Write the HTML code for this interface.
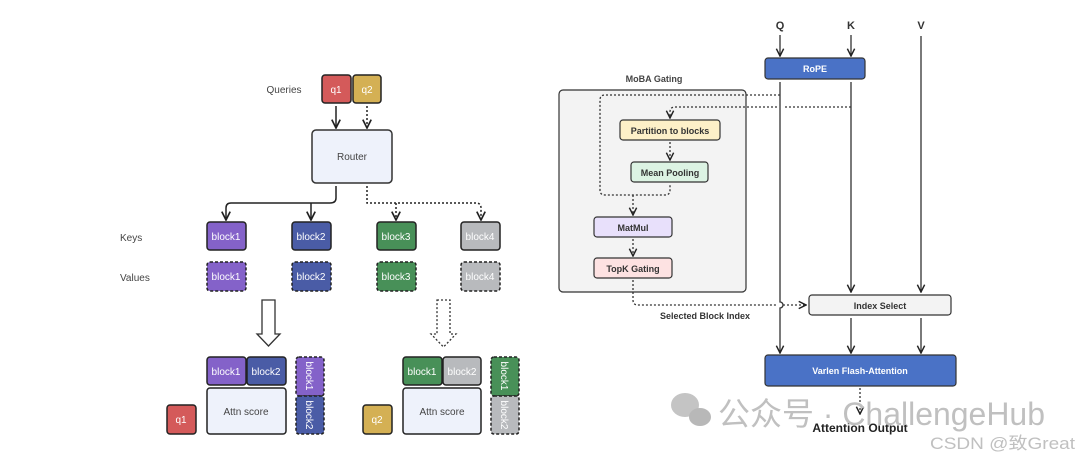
<!DOCTYPE html>
<html><head><meta charset="utf-8"><style>
html,body{margin:0;padding:0;background:#fff;}
svg{display:block;font-family:"Liberation Sans","Noto Sans CJK SC",sans-serif;}
</style></head><body>
<svg width="1080" height="459" viewBox="0 0 1080 459" xmlns="http://www.w3.org/2000/svg">
<defs>
<marker id="ah" viewBox="0 0 10 10" refX="9" refY="5" markerWidth="7" markerHeight="7" orient="auto-start-reverse"><path d="M1,1 L9,5 L1,9" fill="none" stroke="#222" stroke-width="1.6"/></marker>
</defs>
<g font-size="10" fill="#444">
<text x="284" y="93" text-anchor="middle">Queries</text>
<text x="120" y="241">Keys</text>
<text x="120" y="281">Values</text>
</g>
<g stroke="#222" stroke-width="1.5" font-size="10" text-anchor="middle">
<rect x="322" y="75" width="29" height="28" rx="3" fill="#d45a5a"/>
<rect x="353" y="75" width="28" height="28" rx="3" fill="#d4b054"/>
<rect x="312" y="130" width="80" height="53" rx="4" fill="#eef2fb" stroke="#333"/>
<rect x="207" y="222" width="39" height="28" rx="3" fill="#8462c9"/>
<rect x="292" y="222" width="39" height="28" rx="3" fill="#4a5ca6"/>
<rect x="377" y="222" width="39" height="28" rx="3" fill="#489058"/>
<rect x="461" y="222" width="39" height="28" rx="3" fill="#b8babd"/>
<g stroke-dasharray="3,2">
<rect x="207" y="262" width="39" height="29" rx="3" fill="#8462c9"/>
<rect x="292" y="262" width="39" height="29" rx="3" fill="#4a5ca6"/>
<rect x="377" y="262" width="39" height="29" rx="3" fill="#489058"/>
<rect x="461" y="262" width="39" height="29" rx="3" fill="#b8babd"/>
</g>
<rect x="207" y="357" width="39" height="28" rx="3" fill="#8462c9"/>
<rect x="247" y="357" width="39" height="28" rx="3" fill="#4a5ca6"/>
<rect x="207" y="388" width="79" height="46" rx="3" fill="#eef2fb"/>
<rect x="296" y="357" width="28" height="39" rx="3" fill="#8462c9" stroke-dasharray="3,2"/>
<rect x="296" y="396" width="28" height="38" rx="3" fill="#4a5ca6" stroke-dasharray="3,2"/>
<rect x="167" y="405" width="29" height="29" rx="3" fill="#d45a5a"/>
<rect x="403" y="357" width="39" height="28" rx="3" fill="#489058"/>
<rect x="443" y="357" width="38" height="28" rx="3" fill="#b8babd"/>
<rect x="403" y="388" width="78" height="46" rx="3" fill="#eef2fb"/>
<rect x="491" y="357" width="28" height="39" rx="3" fill="#489058" stroke-dasharray="3,2"/>
<rect x="491" y="396" width="28" height="38" rx="3" fill="#b8babd" stroke-dasharray="3,2"/>
<rect x="363" y="405" width="29" height="29" rx="3" fill="#d4b054"/>
</g>
<g font-size="10" text-anchor="middle" fill="#fff">
<text x="336" y="93">q1</text><text x="367" y="93">q2</text>
<text x="226" y="240">block1</text><text x="311" y="240">block2</text><text x="396" y="240">block3</text><text x="480" y="240">block4</text>
<text x="226" y="280">block1</text><text x="311" y="280">block2</text><text x="396" y="280">block3</text><text x="480" y="280">block4</text>
<text x="226" y="375">block1</text><text x="266" y="375">block2</text>
<text x="422" y="375">block1</text><text x="462" y="375">block2</text>
<text x="181" y="423">q1</text><text x="377" y="423">q2</text>
<text transform="translate(306,376) rotate(90)" >block1</text>
<text transform="translate(306,415) rotate(90)">block2</text>
<text transform="translate(501,376) rotate(90)">block1</text>
<text transform="translate(501,415) rotate(90)">block2</text>
</g>
<g font-size="10" text-anchor="middle" fill="#444">
<text x="352" y="160">Router</text>
<text x="246" y="415">Attn score</text>
<text x="442" y="415">Attn score</text>
</g>
<g fill="none" stroke="#222" stroke-width="1.5">
<path d="M336,106 V128" marker-end="url(#ah)"/>
<path d="M367,106 V128" stroke-dasharray="2,2" marker-end="url(#ah)"/>
<path d="M336,186 V198 Q336,203 330,203 H231 Q226,203 226,208 V220" marker-end="url(#ah)"/>
<path d="M311,203 Q311,205 311,208 V220" marker-end="url(#ah)"/>
<path d="M367,186 V203 H476 Q481,203 481,208 V220" stroke-dasharray="2,2" marker-end="url(#ah)"/>
<path d="M396,203 V220" stroke-dasharray="2,2" marker-end="url(#ah)"/>
<path d="M262,300 H275 V334 H280 L268.5,346 L257,334 H262 Z" stroke="#333" stroke-width="1.3"/>
<path d="M437,300 H450 V334 H456 L443.5,347 L431,334 H437 Z" stroke="#333" stroke-width="1.3" stroke-dasharray="2,2"/>
</g>
<g font-size="11" font-weight="bold" fill="#333" text-anchor="middle">
<text x="780" y="29">Q</text><text x="851" y="29">K</text><text x="921" y="29">V</text>
</g>
<text x="654" y="82" font-size="9" font-weight="bold" fill="#444" text-anchor="middle">MoBA Gating</text>
<rect x="559" y="90" width="187" height="202" rx="4" fill="#f3f3f3" stroke="#333" stroke-width="1.2"/>
<g stroke="#333" stroke-width="1.2">
<rect x="765" y="58" width="100" height="21" rx="3" fill="#4a72c6"/>
<rect x="620" y="120" width="100" height="20" rx="3" fill="#fdf0c8"/>
<rect x="631" y="162" width="77" height="20" rx="3" fill="#dcf3e3"/>
<rect x="594" y="217" width="78" height="20" rx="3" fill="#e8e0fb"/>
<rect x="594" y="258" width="78" height="20" rx="3" fill="#fde2e2"/>
<rect x="809" y="295" width="142" height="20" rx="3" fill="#f3f3f3"/>
<rect x="765" y="355" width="191" height="31" rx="3" fill="#4a72c6"/>
</g>
<g font-size="9" font-weight="bold" text-anchor="middle" fill="#333">
<text x="815" y="72" fill="#fff">RoPE</text>
<text x="670" y="134">Partition to blocks</text>
<text x="670" y="176">Mean Pooling</text>
<text x="633" y="231">MatMul</text>
<text x="633" y="272">TopK Gating</text>
<text x="880" y="309">Index Select</text>
<text x="860" y="374" fill="#fff">Varlen Flash-Attention</text>
<text x="705" y="319">Selected Block Index</text>
</g>
<g fill="none" stroke="#333" stroke-width="1.3">
<path d="M780,35 V56" marker-end="url(#ah)"/>
<path d="M851,35 V56" marker-end="url(#ah)"/>
<path d="M921,36 V292" marker-end="url(#ah)"/>
<path d="M851,82 V292" marker-end="url(#ah)"/>
<path d="M780,82 V302 a3,3 0 0 1 0,6 V353" marker-end="url(#ah)"/>
<path d="M851,318 V353" marker-end="url(#ah)"/>
<path d="M921,318 V353" marker-end="url(#ah)"/>
</g>
<g fill="none" stroke="#333" stroke-width="1.3" stroke-dasharray="2,2">
<path d="M780,95 H605 Q600,95 600,100 V190 Q600,195 605,195 H665 Q670,195 670,190 V184"/>
<path d="M633,195 V215" marker-end="url(#ah)"/>
<path d="M851,107 H783 M777,107 H675 Q670,107 670,112 V118" marker-end="url(#ah)"/>
<path d="M670,142 V160" marker-end="url(#ah)"/>
<path d="M633,239 V256" marker-end="url(#ah)"/>
<path d="M633,280 V300 Q633,305 638,305 H777 M783,305 H806" marker-end="url(#ah)"/>
<path d="M860,388 V414" marker-end="url(#ah)"/>
</g>
<text x="860" y="432" font-size="12" font-weight="bold" fill="#222" text-anchor="middle">Attention Output</text>
<g fill="#c4c4c4">
<ellipse cx="685" cy="405" rx="14" ry="12"/>
<ellipse cx="700" cy="417" rx="11" ry="9" fill="#b8b8b8"/>
</g>
<text x="718" y="425" font-size="32" fill="#c0c0c0" textLength="327" lengthAdjust="spacingAndGlyphs">公众号 · ChallengeHub</text>
<text x="930" y="449" font-size="17" fill="#c0c0c0" textLength="145" lengthAdjust="spacingAndGlyphs">CSDN @致Great</text>
</svg>
</body></html>
